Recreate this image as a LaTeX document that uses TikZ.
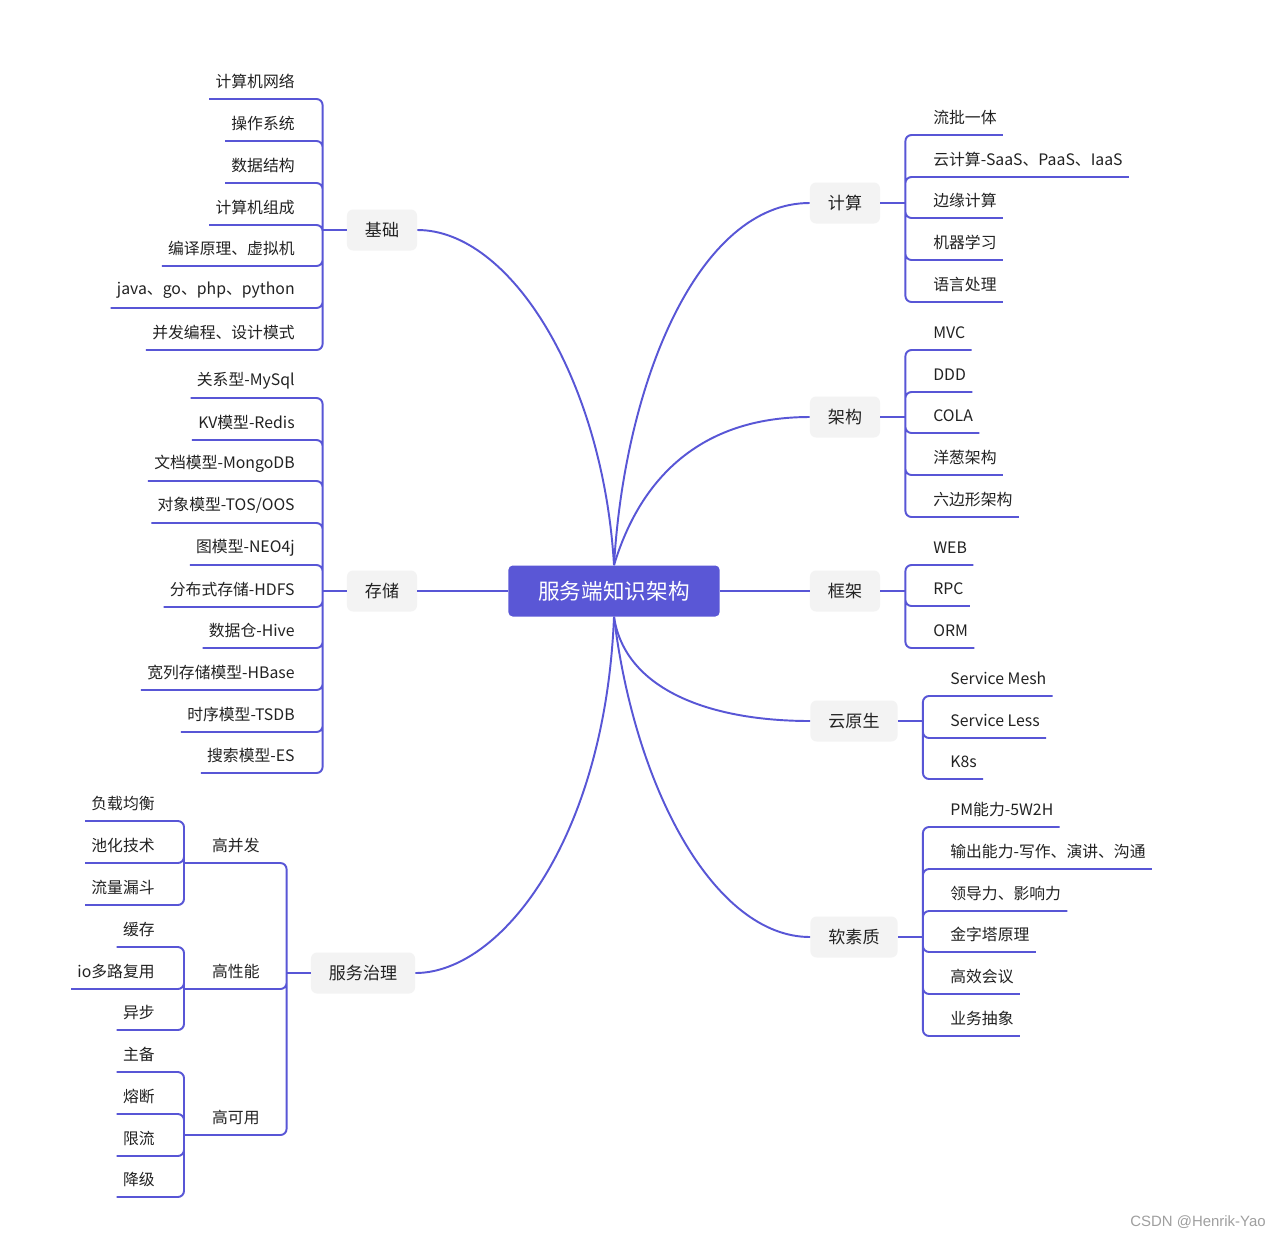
\documentclass[tikz,border=0pt]{standalone}
\usepackage{fontspec}
\setmainfont{Noto Sans CJK SC}
\newfontfamily\markfont{Liberation Sans}
\usepackage{tikz}
\usetikzlibrary{positioning,calc}

\definecolor{mapline}{RGB}{88,86,214}
\definecolor{rootfill}{RGB}{90,87,214}
\definecolor{topicfill}{RGB}{243,243,243}
\definecolor{inkgray}{RGB}{34,34,34}

\begin{document}
\begin{tikzpicture}[
    x=0.02cm, y=-0.02cm,
    root/.style={rectangle, rounded corners=2.5pt, fill=rootfill, text=white, minimum height=1.02cm, inner xsep=0.6cm, font=\fontsize{12.3}{14}\selectfont},
    topic/.style={rectangle, rounded corners=3.5pt, fill=topicfill, text=inkgray, minimum height=0.82cm, inner xsep=0.36cm, font=\fontsize{9.7}{12}\selectfont},
    leafL/.style={anchor=south east, inner xsep=0.12cm, inner ysep=0pt, minimum height=0.68cm, text=inkgray, font=\fontsize{9}{11}\selectfont},
    leafR/.style={leafL, anchor=south west},
    sub/.style={leafL, anchor=south west, minimum width=2.06cm, inner xsep=0pt},
    line/.style={draw=mapline, line width=1.1pt, rounded corners=3.5pt},
    curve/.style={draw=mapline, line width=1.1pt}
]

    \fill [white] (0,0) rectangle (1280,1238);
    \useasboundingbox (0,0) rectangle (1280,1238);

    % Centre
    \node (root) at (614,591) [root] {服务端知识架构};

    % Left Topics
    \node (jichu) at (382,230) [topic] {基础};
    \node (cunchu) at (382,591) [topic] {存储};
    \node (zhili) at (363,973) [topic] {服务治理};

    % Right Topics
    \node (jisuan) at (845,203) [topic] {计算};
    \node (jiagou) at (845,417) [topic] {架构};
    \node (kuangjia) at (845,591) [topic] {框架};
    \node (yun) at (854,721) [topic] {云原生};
    \node (ruan) at (854,937) [topic] {软素质};

    % Bar Junctions
    \coordinate (jichu-bar) at ($(jichu.west)+(-24,0)$);
    \coordinate (cunchu-bar) at ($(cunchu.west)+(-24,0)$);
    \coordinate (zhili-bar) at ($(zhili.west)+(-24,0)$);
    \coordinate (jisuan-bar) at ($(jisuan.east)+(25,0)$);
    \coordinate (jiagou-bar) at ($(jiagou.east)+(25,0)$);
    \coordinate (kuangjia-bar) at ($(kuangjia.east)+(25,0)$);
    \coordinate (yun-bar) at ($(yun.east)+(25,0)$);
    \coordinate (ruan-bar) at ($(ruan.east)+(25,0)$);

    % Centre to Topic Connectors
    \draw [curve] (root.north) .. controls ($(root.north)+(-11,-186)$) and ($(jichu.east)+(93,0)$) .. (jichu.east);
    \draw [curve] (root.north) .. controls ($(root.north)+(11,-186)$) and ($(jisuan.west)+(-110,0)$) .. (jisuan.west);
    \draw [curve] (root.north) .. controls ($(root.north)+(26,-86)$) and ($(jiagou.west)+(-110,0)$) .. (jiagou.west);
    \draw [curve] (root.west) -- (cunchu.east);
    \draw [curve] (root.east) -- (kuangjia.west);
    \draw [curve] (root.south) .. controls ($(root.south)+(11,73)$) and ($(yun.west)+(-100,0)$) .. (yun.west);
    \draw [curve] (root.south) .. controls ($(root.south)+(21,173)$) and ($(ruan.west)+(-95,0)$) .. (ruan.west);
    \draw [curve] (root.south) .. controls ($(root.south)+(-9,223)$) and ($(zhili.east)+(85,0)$) .. (zhili.east);

    % 基础 Leaves
    \node (jc1) at (301,99) [leafL] {计算机网络};
    \node (jc2) at (301,141) [leafL] {操作系统};
    \node (jc3) at (301,183) [leafL] {数据结构};
    \node (jc4) at (301,225) [leafL] {计算机组成};
    \node (jc5) at (301,266) [leafL] {编译原理、虚拟机};
    \node (jc6) at (301,308) [leafL] {java、go、php、python};
    \node (jc7) at (301,350) [leafL] {并发编程、设计模式};
    \draw [line] (jichu.west) -- (jichu-bar);
    \draw [line] (jc1.south west) -| (jichu-bar) (jc2.south west) -| (jichu-bar)
        (jc3.south west) -| (jichu-bar) (jc4.south west) -| (jichu-bar)
        (jc5.south west) -| (jichu-bar) (jc6.south west) -| (jichu-bar)
        (jc7.south west) -| (jichu-bar);

    % 存储 Leaves
    \node (cc1) at (301,398) [leafL] {关系型-MySql};
    \node (cc2) at (301,440) [leafL] {KV模型-Redis};
    \node (cc3) at (301,481) [leafL] {文档模型-MongoDB};
    \node (cc4) at (301,523) [leafL] {对象模型-TOS/OOS};
    \node (cc5) at (301,565) [leafL] {图模型-NEO4j};
    \node (cc6) at (301,607) [leafL] {分布式存储-HDFS};
    \node (cc7) at (301,648) [leafL] {数据仓-Hive};
    \node (cc8) at (301,690) [leafL] {宽列存储模型-HBase};
    \node (cc9) at (301,732) [leafL] {时序模型-TSDB};
    \node (cc10) at (301,773) [leafL] {搜索模型-ES};
    \draw [line] (cunchu.west) -- (cunchu-bar);
    \draw [line] (cc1.south west) -| (cunchu-bar) (cc2.south west) -| (cunchu-bar)
        (cc3.south west) -| (cunchu-bar) (cc4.south west) -| (cunchu-bar)
        (cc5.south west) -| (cunchu-bar) (cc6.south west) -| (cunchu-bar)
        (cc7.south west) -| (cunchu-bar) (cc8.south west) -| (cunchu-bar)
        (cc9.south west) -| (cunchu-bar) (cc10.south west) -| (cunchu-bar);

    % 服务治理 Branches
    \node (gbf) at (184,863) [sub] {高并发};
    \node (gxn) at (184,989) [sub] {高性能};
    \node (gky) at (184,1135) [sub] {高可用};
    \draw [line] (zhili.west) -- (zhili-bar);
    \draw [line] (gbf.south west) -| (zhili-bar) (gxn.south west) -| (zhili-bar)
        (gky.south west) -| (zhili-bar);

    \node (bf1) at (161,821) [leafL] {负载均衡};
    \node (bf2) at (161,863) [leafL] {池化技术};
    \node (bf3) at (161,905) [leafL] {流量漏斗};
    \draw [line] (bf1.south west) -| (gbf.south west) (bf2.south west) -| (gbf.south west)
        (bf3.south west) -| (gbf.south west);

    \node (xn1) at (161,947) [leafL] {缓存};
    \node (xn2) at (161,989) [leafL] {io多路复用};
    \node (xn3) at (161,1030) [leafL] {异步};
    \draw [line] (xn1.south west) -| (gxn.south west) (xn2.south west) -| (gxn.south west)
        (xn3.south west) -| (gxn.south west);

    \node (ky1) at (161,1072) [leafL] {主备};
    \node (ky2) at (161,1114) [leafL] {熔断};
    \node (ky3) at (161,1156) [leafL] {限流};
    \node (ky4) at (161,1197) [leafL] {降级};
    \draw [line] (ky1.south west) -| (gky.south west) (ky2.south west) -| (gky.south west)
        (ky3.south west) -| (gky.south west) (ky4.south west) -| (gky.south west);

    % 计算 Leaves
    \node (js1) at (927,135) [leafR] {流批一体};
    \node (js2) at (927,177) [leafR] {云计算-SaaS、PaaS、IaaS};
    \node (js3) at (927,218) [leafR] {边缘计算};
    \node (js4) at (927,260) [leafR] {机器学习};
    \node (js5) at (927,302) [leafR] {语言处理};
    \draw [line] (jisuan.east) -- (jisuan-bar);
    \draw [line] (js1.south east) -| (jisuan-bar) (js2.south east) -| (jisuan-bar)
        (js3.south east) -| (jisuan-bar) (js4.south east) -| (jisuan-bar)
        (js5.south east) -| (jisuan-bar);

    % 架构 Leaves
    \node (jg1) at (927,350) [leafR] {MVC};
    \node (jg2) at (927,392) [leafR] {DDD};
    \node (jg3) at (927,433) [leafR] {COLA};
    \node (jg4) at (927,475) [leafR] {洋葱架构};
    \node (jg5) at (927,517) [leafR] {六边形架构};
    \draw [line] (jiagou.east) -- (jiagou-bar);
    \draw [line] (jg1.south east) -| (jiagou-bar) (jg2.south east) -| (jiagou-bar)
        (jg3.south east) -| (jiagou-bar) (jg4.south east) -| (jiagou-bar)
        (jg5.south east) -| (jiagou-bar);

    % 框架 Leaves
    \node (kj1) at (927,565) [leafR] {WEB};
    \node (kj2) at (927,606) [leafR] {RPC};
    \node (kj3) at (927,648) [leafR] {ORM};
    \draw [line] (kuangjia.east) -- (kuangjia-bar);
    \draw [line] (kj1.south east) -| (kuangjia-bar) (kj2.south east) -| (kuangjia-bar)
        (kj3.south east) -| (kuangjia-bar);

    % 云原生 Leaves
    \node (yy1) at (944,696) [leafR] {Service Mesh};
    \node (yy2) at (944,738) [leafR] {Service Less};
    \node (yy3) at (944,779) [leafR] {K8s};
    \draw [line] (yun.east) -- (yun-bar);
    \draw [line] (yy1.south east) -| (yun-bar) (yy2.south east) -| (yun-bar)
        (yy3.south east) -| (yun-bar);

    % 软素质 Leaves
    \node (rs1) at (944,827) [leafR] {PM能力-5W2H};
    \node (rs2) at (944,869) [leafR] {输出能力-写作、演讲、沟通};
    \node (rs3) at (944,911) [leafR] {领导力、影响力};
    \node (rs4) at (944,952) [leafR] {金字塔原理};
    \node (rs5) at (944,994) [leafR] {高效会议};
    \node (rs6) at (944,1036) [leafR] {业务抽象};
    \draw [line] (ruan.east) -- (ruan-bar);
    \draw [line] (rs1.south east) -| (ruan-bar) (rs2.south east) -| (ruan-bar)
        (rs3.south east) -| (ruan-bar) (rs4.south east) -| (ruan-bar)
        (rs5.south east) -| (ruan-bar) (rs6.south east) -| (ruan-bar);

    % Watermark
    \node (mark) at (1266,1222) [anchor=east, inner sep=0pt, text=gray!75, font=\markfont\fontsize{8.5}{10}\selectfont] {CSDN @Henrik-Yao};

\end{tikzpicture}
\end{document}
